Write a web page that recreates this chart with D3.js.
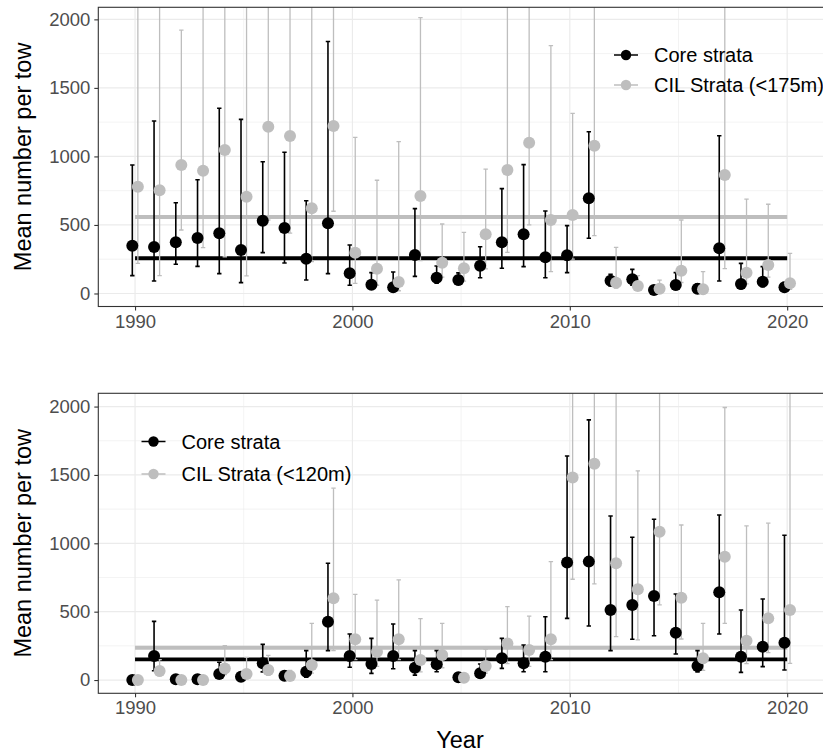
<!DOCTYPE html>
<html>
<head>
<meta charset="utf-8">
<script src="https://cdn.jsdelivr.net/npm/d3@7"></script>
<style>
  body { margin: 0; background: #fff; }
  text { font-family: "Liberation Sans", Arial, sans-serif; }
</style>
</head>
<body>
<svg id="chart" width="823" height="752"></svg>
<script>
// survey years
const years = d3.range(1990, 2021);

// top panel: core strata vs CIL strata (<175m)
const coreTop   = [349,339,373,405,439,317,531,478,254,512,147,64,45,281,115,98,203,373,432,264,279,694,93,103,25,62,35,330,69,86,45];
const coreTopLo = [130,91,213,198,145,79,298,222,98,145,60,35,20,125,75,65,115,184,196,115,152,403,55,60,10,30,15,91,35,50,20];
const coreTopHi = [937,1258,662,830,1351,1270,961,1030,677,1839,354,152,157,619,200,150,341,765,940,602,495,1180,140,176,50,152,70,1151,220,196,80];
const cilTop    = [779,753,937,896,1047,706,1217,1149,621,1222,298,181,84,711,225,184,432,901,1100,536,573,1078,79,55,35,166,31,864,152,208,74];
const cilTopLo  = [220,130,463,334,268,128,536,441,232,600,74,60,20,240,120,90,180,300,500,159,250,422,40,25,15,80,15,181,70,120,30];
const cilTopHi  = [2600,2600,1922,2600,2600,2600,2600,2600,2600,2600,1139,826,1108,2012,507,446,908,2600,2600,1808,1314,2600,337,130,98,536,159,2600,689,651,293];

// bottom panel: core strata vs CIL strata (<120m)
const coreBot   = [0,176,5,5,44,24,122,31,61,427,176,117,176,90,115,20,49,159,122,171,859,866,512,549,615,346,102,642,171,244,273];
const coreBotLo = [0,68,0,0,15,5,60,10,20,215,93,49,83,36,61,5,20,85,61,61,451,395,215,298,324,190,60,337,56,98,73];
const coreBotHi = [10,429,15,15,130,50,261,60,215,854,337,305,410,215,215,40,117,305,256,463,1639,1903,1200,1044,1176,629,215,1207,512,593,1059];
const cilBot    = [0,66,0,0,85,44,73,29,110,598,298,207,298,146,183,17,102,268,220,298,1481,1581,854,664,1085,602,159,902,288,451,512];
const cilBotLo  = [0,30,0,0,40,15,35,10,50,215,150,100,150,60,90,5,50,120,100,150,737,703,317,293,549,300,70,415,120,200,122];
const cilBotHi  = [10,150,10,10,251,166,180,70,415,1403,627,585,732,449,415,40,224,537,468,866,2600,2600,2600,1529,2600,1134,415,1993,1127,1147,2600];

// long-term means (horizontal lines)
const meansTop = [257, 558];
const meansBot = [151, 236];

const xTicks = [1990, 2000, 2010, 2020];
const yTicks = [0, 500, 1000, 1500, 2000];

const BLACK = "#000000", GREY = "#bebebe";
const svg = d3.select("#chart");

function drawPanel(id, box, yDom, core, coreLo, coreHi, cil, cilLo, cilHi, means, legendLabels, legendPos) {
  const x = d3.scaleLinear().domain([1988.31, 2021.74]).range([box.left, box.right]);
  const y = d3.scaleLinear().domain(yDom).range([box.bottom, box.top]);
  const g = svg.append("g");

  g.append("clipPath").attr("id", id)
    .append("rect")
    .attr("x", box.left).attr("y", box.top)
    .attr("width", box.right - box.left).attr("height", box.bottom - box.top);

  const grid = g.append("g").attr("clip-path", `url(#${id})`);
  // minor grid
  const xMinor = [1995, 2005, 2015];
  const yMinor = [250, 750, 1250, 1750];
  grid.selectAll(".xmin").data(xMinor).enter().append("line")
    .attr("x1", d => x(d)).attr("x2", d => x(d))
    .attr("y1", box.top).attr("y2", box.bottom)
    .attr("stroke", "#ebebeb").attr("stroke-width", 0.6);
  grid.selectAll(".ymin").data(yMinor).enter().append("line")
    .attr("x1", box.left).attr("x2", box.right)
    .attr("y1", d => y(d)).attr("y2", d => y(d))
    .attr("stroke", "#ebebeb").attr("stroke-width", 0.6);
  // major grid
  grid.selectAll(".xmaj").data(xTicks).enter().append("line")
    .attr("x1", d => x(d)).attr("x2", d => x(d))
    .attr("y1", box.top).attr("y2", box.bottom)
    .attr("stroke", "#ebebeb").attr("stroke-width", 1.2);
  grid.selectAll(".ymaj").data(yTicks).enter().append("line")
    .attr("x1", box.left).attr("x2", box.right)
    .attr("y1", d => y(d)).attr("y2", d => y(d))
    .attr("stroke", "#ebebeb").attr("stroke-width", 1.2);

  const plot = g.append("g").attr("clip-path", `url(#${id})`);

  // mean lines
  plot.selectAll(".mean").data(means).enter().append("line")
    .attr("x1", x(1990)).attr("x2", x(2020))
    .attr("y1", d => y(d)).attr("y2", d => y(d))
    .attr("stroke", (d, i) => i === 0 ? BLACK : GREY)
    .attr("stroke-width", 3.8);

  const series = [
    { col: BLACK, off: -0.125, m: core, lo: coreLo, hi: coreHi, w: 1.6 },
    { col: GREY,  off:  0.13,  m: cil,  lo: cilLo,  hi: cilHi,  w: 1.3 }
  ];

  // error bars
  series.forEach(s => {
    const eb = plot.append("g").attr("stroke", s.col).attr("stroke-width", s.w);
    years.forEach((yr, i) => {
      const cx = x(yr + s.off);
      eb.append("line").attr("x1", cx).attr("x2", cx).attr("y1", y(s.lo[i])).attr("y2", y(s.hi[i]));
      eb.append("line").attr("x1", cx - 2.2).attr("x2", cx + 2.2).attr("y1", y(s.lo[i])).attr("y2", y(s.lo[i]));
      eb.append("line").attr("x1", cx - 2.2).attr("x2", cx + 2.2).attr("y1", y(s.hi[i])).attr("y2", y(s.hi[i]));
    });
  });

  // points
  series.forEach(s => {
    plot.append("g").selectAll("circle").data(years).enter().append("circle")
      .attr("cx", (d) => x(d + s.off))
      .attr("cy", (d, i) => y(s.m[i]))
      .attr("r", 6)
      .attr("fill", s.col);
  });

  // panel border
  g.append("rect")
    .attr("x", box.left).attr("y", box.top)
    .attr("width", box.right - box.left).attr("height", box.bottom - box.top)
    .attr("fill", "none").attr("stroke", "#333").attr("stroke-width", 1.1);

  // axes
  const xAxis = g.append("g").attr("transform", `translate(0,${box.bottom})`)
    .call(d3.axisBottom(x).tickValues(xTicks).tickFormat(d3.format("d")).tickSize(4).tickPadding(4));
  const yAxis = g.append("g").attr("transform", `translate(${box.left},0)`)
    .call(d3.axisLeft(y).tickValues(yTicks).tickFormat(d3.format("d")).tickSize(4).tickPadding(4));
  [xAxis, yAxis].forEach(a => {
    a.select(".domain").remove();
    a.selectAll(".tick line").attr("stroke", "#333").attr("stroke-width", 1.1);
    a.selectAll(".tick text").attr("fill", "#4d4d4d").style("font-size", "18.5px")
      .style("font-family", "'Liberation Sans', Arial, sans-serif");
  });

  // y title
  g.append("text")
    .attr("transform", `translate(31,${(box.top + box.bottom) / 2}) rotate(-90)`)
    .attr("text-anchor", "middle")
    .style("font-size", "23.5px")
    .text("Mean number per tow");

  // legend
  const lg = g.append("g");
  legendLabels.forEach((lab, i) => {
    const ly = legendPos.y[i];
    const col = i === 0 ? BLACK : GREY;
    lg.append("line").attr("x1", legendPos.x - 12).attr("x2", legendPos.x + 12)
      .attr("y1", ly).attr("y2", ly).attr("stroke", col).attr("stroke-width", 1.5);
    lg.append("circle").attr("cx", legendPos.x).attr("cy", ly).attr("r", 5.2).attr("fill", col);
    lg.append("text").attr("x", legendPos.x + 28).attr("y", ly + 7)
      .style("font-size", "20px").attr("fill", "#000").text(lab);
  });
}

drawPanel("clipTop", { left: 98.3, right: 825, top: 7.3, bottom: 306.5 }, [-95, 2088],
  coreTop, coreTopLo, coreTopHi, cilTop, cilTopLo, cilTopHi, meansTop,
  ["Core strata", "CIL Strata (<175m)"], { x: 626, y: [55, 85] });

drawPanel("clipBot", { left: 98.3, right: 825, top: 393.3, bottom: 693.3 }, [-97, 2097],
  coreBot, coreBotLo, coreBotHi, cilBot, cilBotLo, cilBotHi, meansBot,
  ["Core strata", "CIL Strata (<120m)"], { x: 153.5, y: [441.5, 474] });

svg.append("text")
  .attr("x", 460).attr("y", 748)
  .attr("text-anchor", "middle")
  .style("font-size", "23.5px")
  .text("Year");
</script>
</body>
</html>
